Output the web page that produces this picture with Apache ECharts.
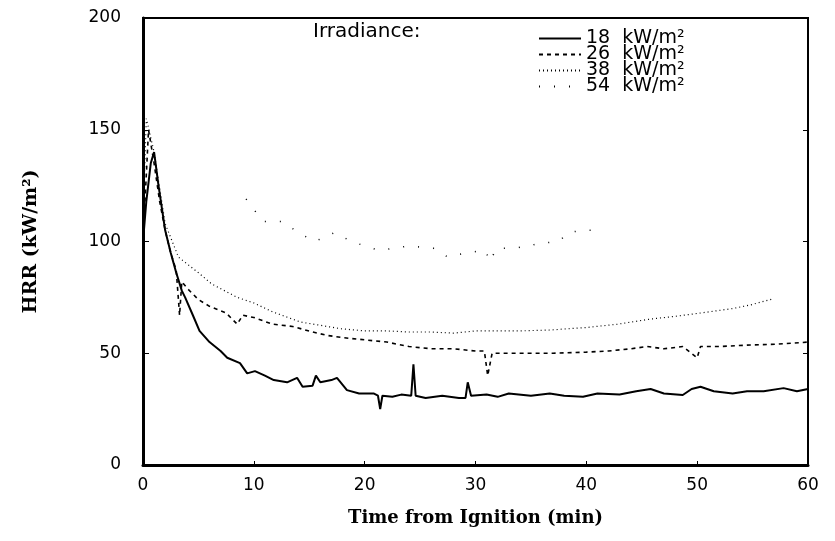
<!DOCTYPE html>
<html>
<head>
<meta charset="utf-8">
<script src="https://cdn.jsdelivr.net/npm/echarts@6/dist/echarts.min.js"></script>
<style>
  html, body { margin: 0; padding: 0; background: #fff; }
  #chart { width: 835px; height: 541px; }
</style>
</head>
<body>
<div id="chart"></div>
<script>
// series labels
var seriesNames = ['18  kW/m²', '26  kW/m²', '38  kW/m²', '54  kW/m²']

// [time (min), HRR (kW/m2)]
var hrr18 = [
  [0, 100], [0.3, 118], [0.7, 135], [1, 140], [1.4, 125], [2, 105], [2.5, 95], [3, 86],
  [3.5, 78], [3.8, 75], [4.5, 67], [5.1, 60], [6, 55], [7, 51], [7.6, 48], [8.75, 45.6],
  [9.4, 41], [10.1, 42], [11, 40], [11.8, 38], [13, 37], [13.9, 39], [14.4, 35], [15.3, 35.5],
  [15.6, 40], [16, 37], [17, 38], [17.5, 39], [18.4, 33.5], [19.5, 32], [20.8, 32], [21.2, 31],
  [21.4, 25], [21.6, 31], [22.5, 30.5], [23.3, 31.5], [24.2, 31], [24.4, 45], [24.6, 31],
  [25.5, 30], [27, 31], [28.5, 30], [29.1, 30], [29.3, 37], [29.6, 31], [31, 31.5], [32, 30.5],
  [33, 32], [35, 31], [36.7, 32], [38, 31], [39.7, 30.5], [41, 32], [43, 31.5], [44.5, 33],
  [45.8, 34], [47, 32], [48.7, 31.3], [49.5, 34], [50.3, 35], [51.5, 33], [53.2, 32],
  [54.5, 33], [56, 33], [57.8, 34.4], [59, 33], [60, 34]
]
var hrr26 = [
  [0, 100], [0.5, 150], [1, 135], [1.5, 118], [2, 105], [2.5, 95], [3, 87], [3.3, 67],
  [3.5, 82], [4, 79], [5, 74], [6, 71], [7.5, 68], [8.5, 63], [9, 67], [10, 66], [11.7, 63],
  [13.5, 62], [15.3, 59.5], [16.6, 58], [18, 57], [20, 56], [22, 55], [24, 53], [26, 52],
  [28, 52], [30, 51], [30.8, 51], [31.1, 40], [31.5, 50], [33, 50], [35, 50], [37, 50],
  [40, 50.5], [42, 51], [44, 52], [45.5, 53], [47, 52], [48.7, 53], [50, 48], [50.3, 53],
  [52, 53], [54.8, 53.7], [57, 54], [60, 55]
]
var hrr38 = [
  [0, 110], [0.3, 155], [1, 140], [2, 108], [3.2, 93], [5, 86], [6.2, 81], [8.5, 75],
  [10, 72.5], [11.7, 68.5], [14.2, 64], [16.6, 62], [17.8, 61], [20, 60], [22, 60],
  [24, 59.5], [26, 59.5], [28, 59], [30, 60], [32, 60], [34, 60], [36.7, 60.4], [40, 61.5],
  [42.8, 63], [45.8, 65.3], [48, 66.5], [50.3, 68], [53.2, 70], [54.8, 71.6], [56.8, 74.3]
]
var hrr54 = [
  [9.3, 119], [10.8, 109], [12.6, 109], [14, 104], [15.5, 100], [17.3, 104], [18.8, 100],
  [21.3, 96], [24, 98], [26.2, 97], [27.5, 93], [29.2, 95], [30.9, 96], [31.3, 91],
  [31.9, 97], [33.4, 97], [35, 98], [35.5, 99], [37.5, 100], [38.4, 104], [39.7, 105], [41, 105]
]

var chart = echarts.init(document.getElementById('chart'))

function lineSerie(name, data, dash, width) {
  return {
    name: name,
    type: 'line',
    data: data,
    symbol: 'none',
    smooth: false,
    itemStyle: { color: '#000' },
    lineStyle: { color: '#000', width: width, type: dash }
  }
}

chart.setOption({
  backgroundColor: '#fff',
  animation: false,
  title: {
    text: 'Irradiance:',
    left: 308,
    top: 17,
    textStyle: { fontFamily: 'DejaVu Sans', fontSize: 20, fontWeight: 'normal', color: '#000' }
  },
  legend: {
    orient: 'vertical',
    left: 533,
    top: 24,
    itemWidth: 42,
    itemHeight: 12,
    itemGap: -3,
    itemStyle: { color: 'rgba(0,0,0,0)', borderWidth: 0 },
    textStyle: { fontFamily: 'DejaVu Sans', fontSize: 19, lineHeight: 16, color: '#000' },
    data: seriesNames
  },
  grid: {
    left: 143,
    right: 27,
    top: 18,
    bottom: 76,
    show: true,
    borderColor: '#000',
    borderWidth: 2
  },
  xAxis: {
    type: 'value',
    min: 0,
    max: 60,
    interval: 10,
    name: 'Time from Ignition (min)',
    nameLocation: 'middle',
    nameGap: 44,
    nameTextStyle: { fontFamily: 'DejaVu Serif', fontWeight: 'bold', fontSize: 18, color: '#000' },
    axisLine: { lineStyle: { color: '#000', width: 3 } },
    axisTick: { inside: true, length: 4, lineStyle: { color: '#000' } },
    axisLabel: { margin: 12, fontFamily: 'DejaVu Sans', fontSize: 17, color: '#000' },
    splitLine: { show: false }
  },
  yAxis: [
    {
      type: 'value',
      min: 0,
      max: 200,
      interval: 50,
      name: 'HRR (kW/m²)',
      nameLocation: 'middle',
      nameGap: 102,
      nameTextStyle: { fontFamily: 'DejaVu Serif', fontWeight: 'bold', fontSize: 19, color: '#000' },
      axisLine: { show: true, lineStyle: { color: '#000', width: 3 } },
      axisTick: { show: true, inside: true, length: 6, lineStyle: { color: '#000' } },
      axisLabel: { margin: 22, fontFamily: 'DejaVu Sans', fontSize: 17, color: '#000' },
      splitLine: { show: false }
    },
    {
      type: 'value',
      min: 0,
      max: 200,
      interval: 50,
      position: 'right',
      axisLine: { show: true, lineStyle: { color: '#000', width: 2 } },
      axisTick: { show: true, inside: true, length: 5, lineStyle: { color: '#000' } },
      axisLabel: { show: false },
      splitLine: { show: false }
    }
  ],
  series: [
    lineSerie(seriesNames[0], hrr18, 'solid', 2),
    lineSerie(seriesNames[1], hrr26, [4, 4], 1.6),
    lineSerie(seriesNames[2], hrr38, [1, 3], 1.2),
    lineSerie(seriesNames[3], hrr54, [1, 14], 1.5)
  ]
})
</script>
</body>
</html>
